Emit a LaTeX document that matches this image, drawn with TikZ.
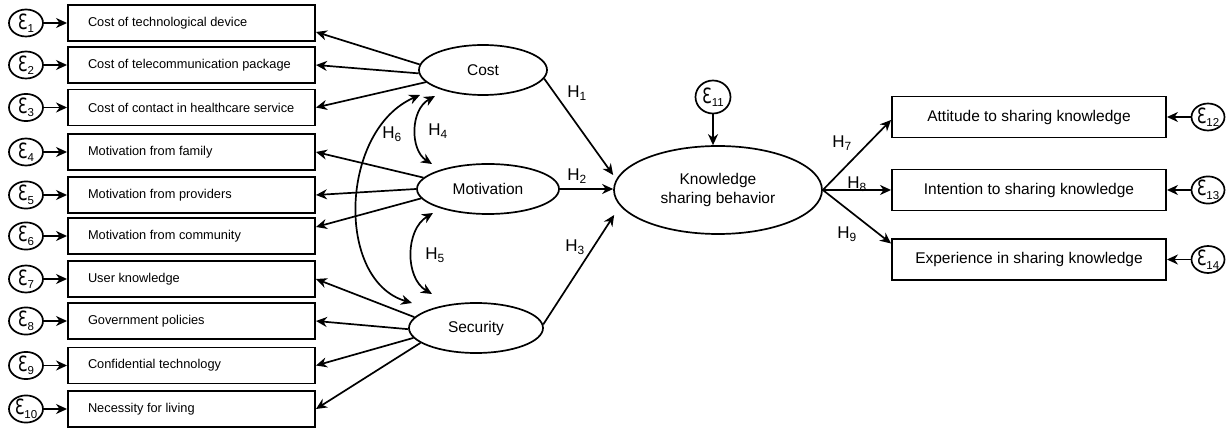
\documentclass[tikz,border=0pt]{standalone}
\usepackage{fontspec}
\usepackage{graphicx}
\setmainfont{Liberation Sans}
\newfontfamily\epsfont{DejaVu Sans}
\usetikzlibrary{arrows.meta,shapes.geometric,calc}
\newcommand\epsl[1]{{\epsfont\fontsize{21}{21}\selectfont\scalebox{0.75}[1]{Ɛ}}\raisebox{-3.5pt}{\fontsize{11.5}{11.5}\selectfont #1}}
\newcommand\lt[1]{\makebox[207pt][l]{#1}}
\begin{document}
\begin{tikzpicture}[x=1pt,y=-1pt,
  lbox/.style={draw, line width=1.9pt, inner xsep=20pt, inner ysep=0pt, minimum height=36pt, font=\fontsize{12.8}{14}\selectfont},
  rbox/.style={draw, line width=1.9pt, minimum width=274pt, minimum height=41pt, inner sep=0pt, font=\fontsize{15.5}{17}\selectfont},
  lat/.style={draw, ellipse, line width=1.7pt, inner sep=0pt, minimum height=50pt, font=\fontsize{15.5}{19}\selectfont, align=center},
  err/.style={draw, ellipse, line width=1.7pt, inner sep=0pt, minimum width=34pt, minimum height=27pt},
  arr/.style={line width=1.7pt, -{Stealth[length=11pt,width=10pt,inset=3.5pt]}},
  darr/.style={line width=1.7pt, {Stealth[length=11pt,width=10pt,inset=3.5pt]}-{Stealth[length=11pt,width=10pt,inset=3.5pt]}},
  hlab/.style={font=\fontsize{17}{17}\selectfont, inner sep=0pt}
]
\useasboundingbox (0,0) rectangle (1226,430);

% indicator boxes (left)
\node[lbox] (l1) at (191.5,23) {\lt{Cost of technological device}};
\node[lbox] (l2) at (191.5,65) {\lt{Cost of telecommunication package}};
\node[lbox] (l3) at (191.5,107.5) {\lt{Cost of contact in healthcare service}};
\node[lbox] (l4) at (191.5,152) {\lt{Motivation from family}};
\node[lbox] (l5) at (191.5,195) {\lt{Motivation from providers}};
\node[lbox] (l6) at (191.5,236) {\lt{Motivation from community}};
\node[lbox] (l7) at (191.5,279) {\lt{User knowledge}};
\node[lbox] (l8) at (191.5,321) {\lt{Government policies}};
\node[lbox] (l9) at (191.5,365.5) {\lt{Confidential technology}};
\node[lbox] (l10) at (191.5,409) {\lt{Necessity for living}};

% error terms (left)
\node[err] (e1) at (26,23) {\epsl{1}};
\node[err] (e2) at (26,65) {\epsl{2}};
\node[err] (e3) at (26,107.5) {\epsl{3}};
\node[err] (e4) at (26,152) {\epsl{4}};
\node[err] (e5) at (26,195) {\epsl{5}};
\node[err] (e6) at (26,236) {\epsl{6}};
\node[err] (e7) at (26,279) {\epsl{7}};
\node[err] (e8) at (26,321) {\epsl{8}};
\node[err] (e9) at (26,365.5) {\epsl{9}};
\node[err] (e10) at (26,409) {\epsl{10}};
\foreach \i in {1,...,10}{\draw[arr] (e\i) -- (l\i);}

% latent variables
\node[lat, minimum width=128pt] (cost) at (483,70) {Cost};
\node[lat, minimum width=142pt] (mot) at (488,189) {Motivation};
\node[lat, minimum width=134pt] (sec) at (476,328) {Security};
\node[lat, minimum width=208pt, minimum height=88pt] (ksb) at (718,190) {Knowledge\\sharing behavior};

% error 11
\node[err, minimum width=35pt, minimum height=33pt] (e11) at (713,97) {\epsl{11}};
\draw[arr] (e11) -- (e11 |- ksb.north);

% right boxes
\node[rbox] (r1) at (1029,117) {Attitude to sharing knowledge};
\node[rbox] (r2) at (1029,190) {Intention to sharing knowledge};
\node[rbox] (r3) at (1029,259.5) {Experience in sharing knowledge};
\node[err, minimum width=33pt, minimum height=26pt] (e12) at (1208,117) {\epsl{12}};
\node[err, minimum width=33pt, minimum height=26pt] (e13) at (1208,190) {\epsl{13}};
\node[err, minimum width=33pt, minimum height=26pt] (e14) at (1208,259.5) {\epsl{14}};
\draw[arr] (e12) -- (r1);
\draw[arr] (e13) -- (r2);
\draw[arr] (e14) -- (r3);

% latent -> indicators
\draw[arr] (cost.175) -- ($(l1.east)+(0,9)$);
\draw[arr] (cost.183) -- (l2.east);
\draw[arr] (cost.192) -- (l3.east);
\draw[arr] (mot.170) -- (l4.east);
\draw[arr] (mot.west) -- (l5.east);
\draw[arr] (mot.188) -- ($(l6.east)+(0,-9)$);
\draw[arr] (sec.170) -- (l7.east);
\draw[arr] (sec.181) -- (l8.east);
\draw[arr] (sec.189) -- (l9.east);
\draw[arr] (sec.195) -- (l10.east);

% structural paths
\draw[arr] (cost.-8) -- ($(ksb.west)+(0,-15)$);
\draw[arr] (mot.east) -- (mot.east -| ksb.west);
\draw[arr] (sec.3) -- ($(ksb.west)+(1,25)$);
\draw[arr] (ksb.east) -- ($(r1.west)+(0,3)$);
\draw[arr] (ksb.east) -- (ksb.east -| r2.west);
\draw[arr] (ksb.east) -- ($(r3.west)+(0,-16)$);

% covariances
\coordinate (h4a) at (435,96);
\coordinate (h4b) at (432,164);
\coordinate (h5a) at (433,213);
\coordinate (h5b) at (432,294);
\coordinate (h6a) at (420,95);
\coordinate (h6b) at (412,303);
\draw[darr] (h4a) .. controls (410,110) and (410,150) .. (h4b);
\draw[darr] (h5a) .. controls (405,230) and (405,278) .. (h5b);
\draw[darr] (h6a) .. controls (340,130) and (335,280) .. (h6b);

% labels
\node[hlab] (lh1) at (577,93) {H\textsubscript{1}};
\node[hlab] (lh2) at (577,176) {H\textsubscript{2}};
\node[hlab] (lh3) at (575,247) {H\textsubscript{3}};
\node[hlab] (lh4) at (438,131) {H\textsubscript{4}};
\node[hlab] (lh5) at (435,255) {H\textsubscript{5}};
\node[hlab] (lh6) at (392,134) {H\textsubscript{6}};
\node[hlab] (lh7) at (842,143) {H\textsubscript{7}};
\node[hlab] (lh8) at (857,184) {H\textsubscript{8}};
\node[hlab] (lh9) at (847,234) {H\textsubscript{9}};
\end{tikzpicture}
\end{document}
